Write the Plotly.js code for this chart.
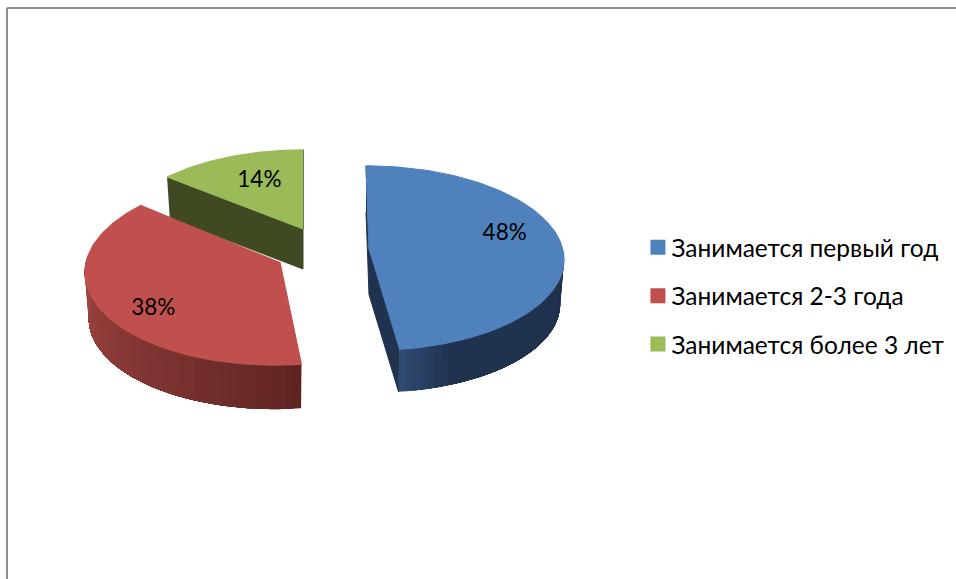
<!DOCTYPE html>
<html>
<head>
<meta charset="utf-8">
<script src="https://cdn.plot.ly/plotly-3.0.1.min.js"></script>
<style>html,body{margin:0;padding:0;background:#fff;overflow:hidden}</style>
</head>
<body>
<div id="chart" style="width:956px;height:579px"></div>
<script>
const categories = ["Занимается первый год", "Занимается 2-3 года", "Занимается более 3 лет"];
const values = [48, 38, 14];
const topColors = ["#4f81bd", "#c0504d", "#9bbb59"];

// Projection of each exploded wedge: centre, radii scale, shear, thickness
const cx = [369, 280, 303];
const cy = [250, 262, 229];
const radiusScale = [1, 1, 0.96];
const depthScale = [1, 1.03, 0.98];
const shear = [0.036, -0.05, 0];
const thickness = [44.5, 46, 40];
const labelTheta = [76, 232, 337];
const labelRadius = [0.735, 0.78, 0.63];

const RX = 194, RY = 91.5, K = 0.087, BOTTOM = 0.98;
const rad = d => d * Math.PI / 180;

function pt(i, deg, r, low) {
  const s = Math.sin(rad(deg)) * r, c = Math.cos(rad(deg)) * r;
  const f = radiusScale[i] / (1 + K * c) * (low ? BOTTOM : 1);
  const y = -RY * depthScale[i] * c * f;
  return [cx[i] + RX * s * f + shear[i] * y, cy[i] + y + (low ? thickness[i] : 0)];
}
function poly(points, color, lineWidth) {
  return {
    x: points.map(p => p[0]), y: points.map(p => p[1]),
    type: "scatter", mode: "lines", fill: "toself", fillcolor: color,
    line: {color: color, width: lineWidth}, hoverinfo: "skip", showlegend: false
  };
}
function arc(i, a, b, low) {
  const out = [], n = Math.max(2, Math.ceil(Math.abs(b - a) / 1.5));
  for (let k = 0; k <= n; k++) out.push(pt(i, a + (b - a) * k / n, 1, low));
  return out;
}
function mix(c1, c2, t) {
  t = Math.min(1, Math.max(0, t));
  return "rgb(" + c1.map((v, j) => Math.round(v + (c2[j] - v) * t)).join(",") + ")";
}

const total = values.reduce((a, b) => a + b, 0);
const starts = [], ends = [];
values.reduce((acc, v, i) => { starts[i] = acc; ends[i] = acc + v / total * 360; return ends[i]; }, 0);

const traces = [];

// Cut faces (only those that face the viewer)
const cutColors = ["#1f334f", null, "#3f4a23"];
[2, 0].forEach(i => {
  const a = pt(i, starts[i], 1), b = pt(i, ends[i], 1), o = pt(i, 0, 0);
  const aL = pt(i, starts[i], 1, true), bL = pt(i, ends[i], 1, true), oL = pt(i, 0, 0, true);
  traces.push(poly([a, o, b, bL, oL, aL], cutColors[i], 1));
});

// Outer walls: overlapping bands, each painted from its angle to the wall's far end
function wall(i, from, to, step, colorAt) {
  const dir = to > from ? 1 : -1;
  for (let d = from; dir * (to - d) > 0; d += dir * step) {
    const upper = arc(i, d, to, false), lower = arc(i, d, to, true).reverse();
    traces.push(poly(upper.concat(lower), colorAt((d - from) / (to - from)), 0));
  }
}
wall(1, ends[0], 272, 2, t => mix([94, 36, 34], [163, 70, 67], Math.pow(t, 0.9)));
wall(0, ends[0], 92, 2, t => mix([46, 74, 112], [31, 51, 79], t * 6));

// Top faces
values.forEach((v, i) => {
  traces.push(poly([pt(i, 0, 0)].concat(arc(i, starts[i], ends[i], false)), topColors[i], 1));
});

// Data labels
traces.push({
  x: values.map((v, i) => pt(i, labelTheta[i], labelRadius[i])[0]),
  y: values.map((v, i) => pt(i, labelTheta[i], labelRadius[i])[1]),
  text: values.map(v => v + "%"),
  type: "scatter", mode: "text", textposition: "middle center",
  textfont: {family: "Lato, 'Open Sans', sans-serif", size: 22.5, color: "#000"},
  hoverinfo: "skip", showlegend: false
});

// Legend entries
categories.forEach((name, i) => {
  traces.push({
    x: [null], y: [null], name: name, legendgroup: name,
    type: "scatter", mode: "markers",
    marker: {symbol: "square", size: 15, color: topColors[i]}
  });
});

const layout = {
  width: 956, height: 579,
  margin: {l: 0, r: 0, t: 0, b: 0},
  paper_bgcolor: "#fff", plot_bgcolor: "#fff",
  xaxis: {range: [0, 956], visible: false, fixedrange: true},
  yaxis: {range: [579, 0], visible: false, fixedrange: true},
  hovermode: false,
  legend: {
    x: 0.6605, xanchor: "left", y: 0.489, yanchor: "middle",
    traceorder: "grouped", tracegroupgap: 13.5,
    font: {family: "Lato, 'Open Sans', sans-serif", size: 24.5, color: "#000"},
    bgcolor: "rgba(0,0,0,0)"
  },
  shapes: [
    {type: "line", xref: "paper", yref: "paper", x0: 0.0073, x1: 1, y0: 0.986, y1: 0.986, line: {color: "#8c8c8c", width: 2}},
    {type: "line", xref: "paper", yref: "paper", x0: 0.0073, x1: 0.0073, y0: 0, y1: 0.986, line: {color: "#8c8c8c", width: 2}}
  ]
};

Plotly.newPlot("chart", traces, layout, {displayModeBar: false, staticPlot: true}).then(() => {
  // Keep the legend swatches close to their labels
  document.querySelectorAll(".legend .legendsymbols").forEach(g => g.setAttribute("transform", "translate(6.5,0)"));
});
</script>
</body>
</html>
